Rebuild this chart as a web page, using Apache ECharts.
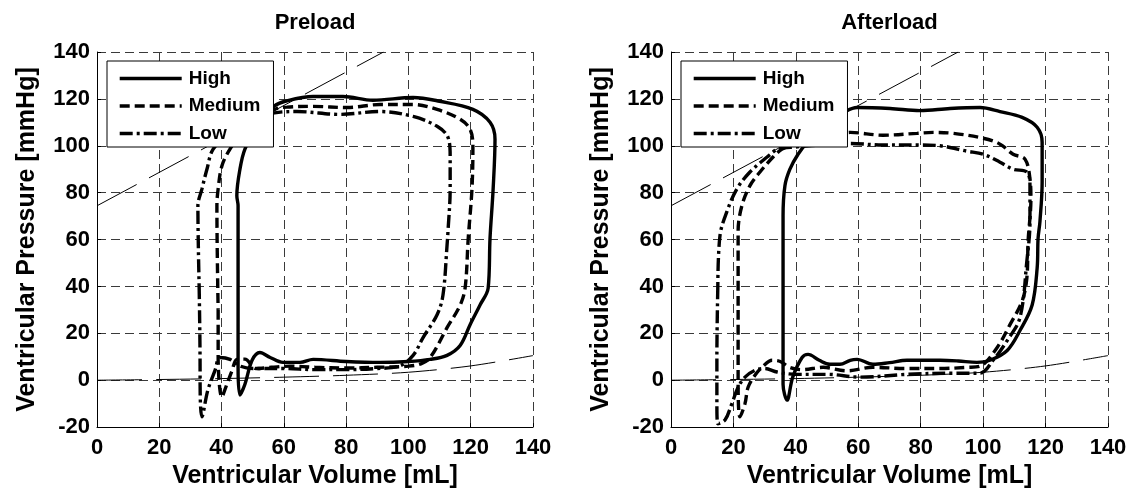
<!DOCTYPE html>
<html>
<head>
<meta charset="utf-8">
<script src="https://cdn.jsdelivr.net/npm/echarts@6/dist/echarts.min.js"></script>
<style>
  html, body { margin: 0; padding: 0; background: #fff; }
  #chart { width: 1135px; height: 494px; }
</style>
</head>
<body>
<div id="chart"></div>
<script>
// Pressure-volume loops: volume [mL] vs. pressure [mmHg]
const levels = ['High', 'Medium', 'Low'];
const panelTitles = ['Preload', 'Afterload'];
const xTicks = { min: 0, max: 140, step: 20 };
const yTicks = { min: -20, max: 140, step: 20 };

// Preload panel
const preHighV = [45.3, 45.3, 45.9, 47.5, 49.8, 52.3, 55.6, 59.7, 65.2, 69.4, 80, 90.9, 100, 107, 112.4, 116.6, 119.8, 123, 125.6, 126.2, 127.2, 127.8, 126.2, 120.7, 110, 101.5, 88.6, 79, 69.4, 60.4, 57, 52, 47.5, 45.9, 44.9, 45.3, 45.3];
const preHighP = [30, 5.5, -6.3, -1.7, 8.5, 11.8, 9.7, 7.6, 7.6, 8.9, 8, 7.6, 8, 8.9, 10.6, 14.8, 23.7, 32.1, 39.3, 60.5, 81.6, 102.8, 110, 115.5, 119, 120.6, 119.4, 121, 121, 119, 117, 110, 98.6, 90, 78.7, 74.4, 30];

const preMedV = [38.9, 38.9, 40.1, 41.7, 43.4, 44.9, 47.5, 51, 56, 62, 70, 80, 90, 100, 104, 107, 112.4, 116.6, 118.2, 119.2, 120.4, 120.7, 119.8, 116.6, 109.2, 101.5, 90.9, 80.3, 69.4, 61, 57, 52, 46, 42.7, 40.1, 38.9, 38.5, 38.9];
const preMedP = [30, 10, -7.2, -1.7, 4.2, 8.9, 9, 5, 5.5, 6, 5.5, 5.2, 5.5, 6, 7, 9.7, 22.4, 32, 39.3, 60.5, 81.6, 99.8, 107, 111.3, 115.5, 117.6, 117.6, 116.3, 116.8, 116.5, 115.5, 110, 104, 98.6, 91.4, 81.6, 74.4, 30];

const preLowV = [32.8, 33.1, 33.1, 33.7, 35.6, 37.9, 39.5, 42.7, 46, 50, 60, 70, 80, 90, 97, 101.5, 104.7, 109.2, 111.1, 112.4, 112.7, 113.4, 113.4, 112.7, 109.2, 101.5, 90.9, 78, 64.2, 57, 50, 42, 37.3, 35.3, 33.7, 32.4, 32.8];
const preLowP = [40, 5, 0, -15.6, -4.2, 4.2, 9.7, 8.9, 6, 5, 5, 4.5, 4.5, 5, 6, 10.6, 18.2, 27.9, 36.4, 57.5, 63.5, 81.6, 95.6, 103.6, 108.3, 112.5, 114.6, 113.4, 114.6, 114, 110, 104, 98.6, 90, 81.6, 74.4, 40];

// Afterload panel
const aftHighV = [35.9, 35.9, 35.9, 37.2, 39, 42, 43.9, 47.5, 50.9, 54.1, 57.4, 59.6, 64.7, 70, 75.6, 86.2, 92, 98, 102.2, 107.7, 111.8, 115.7, 117.3, 117.6, 118.2, 118.9, 118.9, 117.3, 112.5, 105.4, 99, 89.4, 79.8, 70.2, 59.6, 55.8, 50, 44, 40.7, 38.1, 36.5, 35.9, 35.9];
const aftHighP = [60.5, 30, -1.7, -8.5, 1.3, 9.7, 11, 8.5, 6.8, 6.8, 8.5, 8.9, 6.8, 7.5, 8.5, 8.5, 8.2, 7.6, 8.5, 12.7, 21.2, 32.1, 47.8, 60.5, 67.7, 84.6, 101.5, 107.9, 112.1, 114.6, 116.3, 115.9, 115, 115.9, 116.3, 114.6, 110, 102, 96.4, 90, 83, 70, 60.5];

const aftMedV = [21.5, 21.5, 22.1, 23.7, 24.7, 26.9, 29.5, 32.4, 35, 38, 42, 48.7, 56.4, 64.7, 75, 86.2, 95, 99, 104.5, 108.6, 112.5, 114, 114.4, 115.3, 115, 113.4, 109.6, 105.4, 100, 90.4, 84, 78.8, 67.9, 57.4, 55.8, 48, 40, 35.6, 32.7, 28.5, 25.3, 22.7, 21.5, 21.5];
const aftMedP = [30, 0, -15.6, -10, -3, 2.1, 6, 8.5, 8, 5.5, 4.5, 5.5, 4, 5.5, 5, 5, 5.5, 6, 14, 23.7, 33.8, 43.6, 59.2, 77.4, 85.9, 94.3, 96.4, 100.7, 103.2, 105.3, 105.7, 105.3, 104.5, 105.7, 105.5, 104, 101, 98.6, 95.2, 88.8, 83, 74.4, 63.5, 30];

const aftLowV = [15, 14.7, 14.7, 15, 17.3, 19.5, 21.5, 23.7, 26.9, 30, 34, 40, 50, 60.6, 75.6, 90, 99, 103.2, 107.7, 111.8, 114, 115, 115, 114, 109.6, 105.4, 100, 94.8, 86.2, 79.8, 67.9, 57.4, 50, 40, 34.3, 30.8, 25.3, 21.1, 17.9, 15.7, 15];
const aftLowP = [40, 10, -10, -18.6, -17, -10, -3, 1.3, 4.2, 5, 3.5, 2.5, 2.5, 1.3, 2.5, 3, 3, 8.5, 16.9, 26.7, 50.8, 67.7, 83, 88.8, 90, 93, 96.4, 97.7, 100, 100.3, 100.3, 101, 100.5, 99.5, 98.6, 95.2, 88.8, 81.6, 71.9, 61.8, 40];

// End-systolic and end-diastolic pressure-volume relations (same in both panels)
const espvrV = [0, 92];
const espvrP = [74.4, 140];
const edpvrV = [0, 20, 40, 60, 80, 100, 120, 140];
const edpvrP = [0, 0.3, 0.7, 1.3, 2.1, 3.4, 6.1, 10.5];

const FONT = "'Liberation Sans', Arial, Helvetica, sans-serif";
const lineTypes = { High: 'solid', Medium: [10, 5], Low: [13, 4, 3, 4] };

function pts(v, p) { return v.map((x, i) => [x, p[i]]); }

const panels = [
  { left: 97, right: 602, loops: { High: [preHighV, preHighP], Medium: [preMedV, preMedP], Low: [preLowV, preLowP] } },
  { left: 671, right: 27, loops: { High: [aftHighV, aftHighP], Medium: [aftMedV, aftMedP], Low: [aftLowV, aftLowP] } }
];

const grid = [], xAxis = [], yAxis = [], series = [], title = [], legend = [];

panels.forEach((pn, gi) => {
  grid.push({ left: pn.left, right: pn.right, top: 52, bottom: 62, containLabel: false });
  const plotLeft = pn.left, plotRight = 1135 - pn.right;
  title.push({
    text: panelTitles[gi], left: (plotLeft + plotRight) / 2, top: 12, textAlign: 'center', padding: 0,
    textStyle: { fontFamily: FONT, fontSize: 22, fontWeight: 'bold', color: '#000' }
  });
  const axisCommon = {
    gridIndex: gi, type: 'value',
    axisLine: { show: true, onZero: false, lineStyle: { color: '#000', width: 1 } },
    axisTick: { show: true, inside: true, length: 4, lineStyle: { color: '#000' } },
    axisLabel: { fontFamily: FONT, fontSize: 22, fontWeight: 'bold', color: '#000', margin: 7 },
    splitLine: { show: true, lineStyle: { color: '#3a3a3a', width: 1, type: [9, 5] } },
    nameLocation: 'middle',
    nameTextStyle: { fontFamily: FONT, fontSize: 25, fontWeight: 'bold', color: '#000' }
  };
  xAxis.push(Object.assign({}, axisCommon, {
    min: xTicks.min, max: xTicks.max, interval: xTicks.step,
    axisLabel: Object.assign({}, axisCommon.axisLabel, { margin: 10 }),
    name: 'Ventricular Volume [mL]', nameGap: 29
  }));
  yAxis.push(Object.assign({}, axisCommon, {
    min: yTicks.min, max: yTicks.max, interval: yTicks.step,
    name: 'Ventricular Pressure [mmHg]', nameGap: 57
  }));

  series.push({
    type: 'line', name: 'ESPVR', xAxisIndex: gi, yAxisIndex: gi, data: pts(espvrV, espvrP),
    symbol: 'none', silent: true, z: 1,
    lineStyle: { color: '#000', width: 1, type: [45, 14] }
  });
  series.push({
    type: 'line', name: 'EDPVR', xAxisIndex: gi, yAxisIndex: gi, data: pts(edpvrV, edpvrP),
    symbol: 'none', silent: true, z: 1, smooth: 0.3,
    lineStyle: { color: '#000', width: 1, type: [45, 14] }
  });
  levels.forEach(lv => {
    const [v, p] = pn.loops[lv];
    series.push({
      type: 'line', name: lv, xAxisIndex: gi, yAxisIndex: gi, data: pts(v, p),
      symbol: 'none', smooth: 0.35, silent: true, z: 2,
      lineStyle: { color: '#000', width: 3.4, type: lineTypes[lv] },
      itemStyle: { color: '#000' }
    });
  });

  legend.push({
    data: levels, orient: 'vertical', left: plotLeft + 10, top: 61,
    itemWidth: 62, itemHeight: 20, itemGap: 8.5,
    padding: [8, 13, 4, 11],
    backgroundColor: '#fff', borderColor: '#000', borderWidth: 1, borderRadius: 0,
    selectedMode: false, z: 10,
    lineStyle: { width: 3.4 },
    itemStyle: { color: 'rgba(0,0,0,0)', borderWidth: 0, opacity: 0 },
    textStyle: { fontFamily: FONT, fontSize: 19, fontWeight: 'bold', color: '#000', padding: [0, 0, 0, 2] }
  });
});

const chart = echarts.init(document.getElementById('chart'), null, { renderer: 'canvas' });
chart.setOption({
  animation: false,
  backgroundColor: '#fff',
  title, grid, xAxis, yAxis, legend, series
});
</script>
</body>
</html>
